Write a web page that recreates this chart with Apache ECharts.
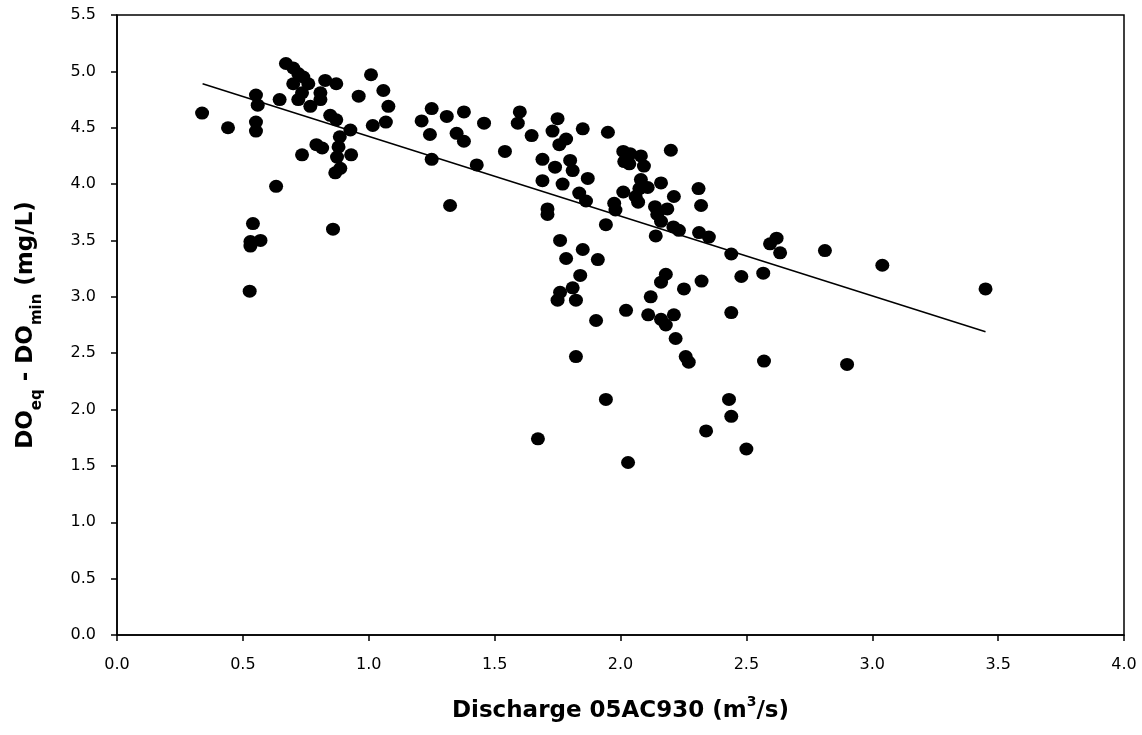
<!DOCTYPE html>
<html>
<head>
<meta charset="utf-8">
<script src="https://cdn.jsdelivr.net/npm/echarts@6/dist/echarts.min.js"></script>
<style>html,body{margin:0;padding:0;background:#fff;}#c{width:1142px;height:735px;}</style>
</head>
<body>
<div id="c"></div>
<script>
const discharge = [0.338,0.441,0.552,0.559,0.552,0.552,0.646,0.671,0.70,0.72,0.74,0.70,0.76,0.827,0.871,1.009,0.735,0.72,0.768,0.808,0.808,0.96,0.847,0.871,0.927,0.885,0.88,0.874,0.887,0.867,0.792,0.815,0.93,0.735,1.016,0.632,0.54,0.53,0.57,0.53,0.858,0.527,1.058,1.078,1.068,1.25,1.21,1.31,1.378,1.458,1.243,1.349,1.378,1.25,1.429,1.541,1.323,1.60,1.592,1.647,1.75,1.73,1.784,1.757,1.85,1.95,1.69,1.74,1.80,1.81,1.69,1.77,1.87,1.836,1.863,1.71,1.71,1.942,1.975,1.98,2.011,2.015,2.011,1.76,1.85,1.784,1.91,1.84,1.81,1.76,1.75,1.823,1.903,2.022,2.038,2.035,2.081,2.093,2.20,2.081,2.075,2.108,2.161,2.06,2.07,2.137,2.146,2.161,2.186,2.212,2.31,2.32,2.14,2.21,2.232,2.312,2.351,2.44,2.594,2.62,2.634,2.812,2.18,2.161,2.252,2.322,2.48,2.567,2.12,2.11,2.161,2.18,2.212,2.44,2.219,2.259,2.271,2.57,1.823,1.942,2.431,2.44,2.34,1.672,2.50,2.03,2.90,3.04,3.45];
const doDeficit = [4.63,4.50,4.79,4.70,4.55,4.47,4.75,5.07,5.03,4.98,4.95,4.89,4.89,4.92,4.89,4.97,4.81,4.75,4.69,4.81,4.75,4.78,4.61,4.57,4.48,4.42,4.33,4.24,4.14,4.10,4.35,4.32,4.26,4.26,4.52,3.98,3.65,3.49,3.50,3.45,3.60,3.05,4.83,4.69,4.55,4.67,4.56,4.60,4.64,4.54,4.44,4.45,4.38,4.22,4.17,4.29,3.81,4.64,4.54,4.43,4.58,4.47,4.40,4.35,4.49,4.46,4.22,4.15,4.21,4.12,4.03,4.00,4.05,3.92,3.85,3.78,3.73,3.64,3.83,3.77,4.29,4.20,3.93,3.50,3.42,3.34,3.33,3.19,3.08,3.04,2.97,2.97,2.79,2.88,4.27,4.18,4.25,4.16,4.30,4.04,3.96,3.97,4.01,3.89,3.84,3.80,3.73,3.67,3.78,3.89,3.96,3.81,3.54,3.62,3.59,3.57,3.53,3.38,3.47,3.52,3.39,3.41,3.20,3.13,3.07,3.14,3.18,3.21,3.00,2.84,2.80,2.75,2.84,2.86,2.63,2.47,2.42,2.43,2.47,2.09,2.09,1.94,1.81,1.74,1.65,1.53,2.40,3.28,3.07];
const trendX = [0.34, 3.45];
const trendY = [4.89, 2.69];
const xTicks = {min: 0, max: 4, step: 0.5};
const yTicks = {min: 0, max: 5.5, step: 0.5};

const pts = discharge.map((x, i) => [x, doDeficit[i]]);
const line = trendX.map((x, i) => [x, trendY[i]]);
const FONT = '"DejaVu Sans", Verdana, sans-serif';

const chart = echarts.init(document.getElementById('c'), null, {renderer: 'canvas'});
chart.setOption({
  animation: false,
  backgroundColor: '#fff',
  grid: {left: 117, right: 18, top: 15, bottom: 100, show: true, borderColor: '#000', borderWidth: 1.5, backgroundColor: 'transparent'},
  xAxis: {
    type: 'value', min: xTicks.min, max: xTicks.max, interval: xTicks.step,
    axisLine: {show: true, lineStyle: {color: '#000', width: 1.5}},
    axisTick: {show: true, inside: false, length: 6, lineStyle: {color: '#000', width: 1.5}},
    splitLine: {show: false},
    axisLabel: {color: '#000', fontSize: 16, fontFamily: FONT, margin: 22, formatter: v => v.toFixed(1)},
    name: '{b|Discharge 05AC930 (m}{sup|3}{b|/s)}',
    nameLocation: 'middle', nameGap: 60,
    nameTextStyle: {
      rich: {
        b: {fontSize: 23, fontWeight: 'bold', fontFamily: FONT, color: '#000', lineHeight: 28, verticalAlign: 'bottom'},
        sup: {fontSize: 14, fontWeight: 'bold', fontFamily: FONT, color: '#000', lineHeight: 28, verticalAlign: 'top', padding: [0, 0, 10, 0]}
      }
    }
  },
  yAxis: {
    type: 'value', min: yTicks.min, max: yTicks.max, interval: yTicks.step,
    axisLine: {show: true, lineStyle: {color: '#000', width: 1.5}},
    axisTick: {show: true, inside: false, length: 6, lineStyle: {color: '#000', width: 1.5}},
    splitLine: {show: false},
    axisLabel: {color: '#000', fontSize: 16, fontFamily: FONT, margin: 21, formatter: v => v.toFixed(1)},
    name: '{b|DO}{sub|eq}{b| - DO}{sub|min}{b| (mg/L)}',
    nameLocation: 'middle', nameGap: 72, nameRotate: 90,
    nameTextStyle: {
      rich: {
        b: {fontSize: 23, fontWeight: 'bold', fontFamily: FONT, color: '#000', lineHeight: 30, verticalAlign: 'top'},
        sub: {fontSize: 15, fontWeight: 'bold', fontFamily: FONT, color: '#000', lineHeight: 30, verticalAlign: 'bottom'}
      }
    }
  },
  series: [
    {type: 'scatter', data: pts, symbol: 'circle', symbolSize: [14, 13], itemStyle: {color: '#000', opacity: 1}, z: 3},
    {type: 'line', data: line, symbol: 'none', lineStyle: {color: '#000', width: 1.5}, z: 4}
  ]
});
</script>
</body>
</html>
